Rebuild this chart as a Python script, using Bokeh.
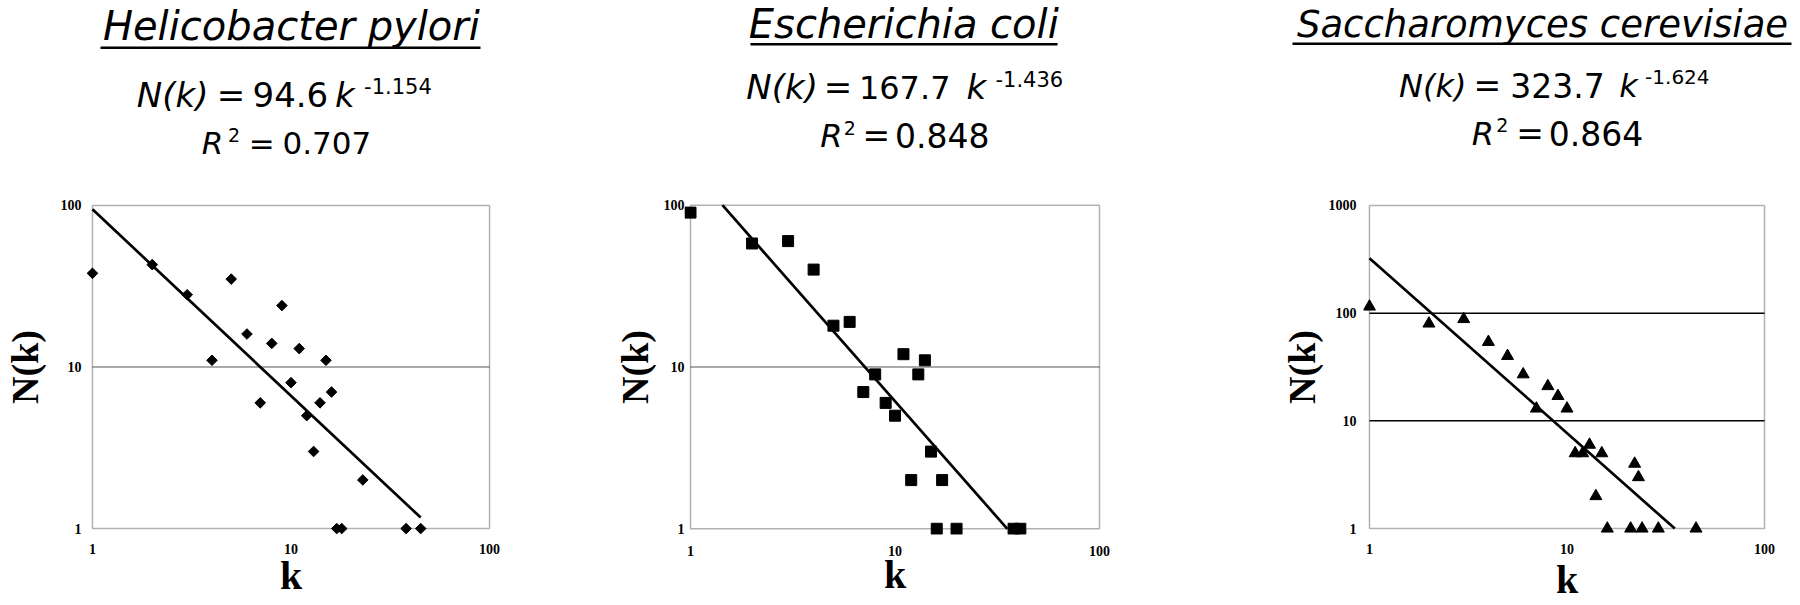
import numpy as np
from bokeh.plotting import figure
from bokeh.layouts import row, column
from bokeh.models import Label, BoxAnnotation, FixedTicker, BasicTickFormatter, Range1d
from bokeh.embed import file_html
from bokeh.resources import INLINE

# ---------------- data ----------------
species = ["Helicobacter pylori", "Escherichia coli", "Saccharomyces cerevisiae"]

hp_k = [1, 2, 3, 4, 5, 6, 7, 8, 9, 10, 11, 12, 13, 14, 15, 16, 17, 18, 23, 38, 45]
hp_n = [38, 43, 28, 11, 35, 16, 6, 14, 24, 8, 13, 5, 3, 6, 11, 7, 1, 1, 2, 1, 1]

ec_k = [1, 2, 3, 4, 5, 6, 7, 8, 9, 10, 11, 12, 13, 14, 15, 16, 17, 20, 38, 41]
ec_n = [90, 58, 60, 40, 18, 19, 7, 9, 6, 5, 12, 2, 9, 11, 3, 1, 2, 1, 1, 1]

sc_k = [1, 2, 3, 4, 5, 6, 7, 8, 9, 10, 11, 12, 13, 14, 15, 16, 21, 22, 23, 24, 29, 45]
sc_n = [115, 80, 88, 54, 40, 27, 13, 21, 17, 13, 5, 5, 6, 2, 5, 1, 1, 4, 3, 1, 1, 1]

fit_coef = [94.6, 167.7, 323.7]
fit_exp = [-1.154, -1.436, -1.624]
r_squared = [0.707, 0.848, 0.864]

x_ticks = [1, 10, 100]
x_tick_labels = ["1", "10", "100"]
y_ticks_list = [[1, 10, 100], [1, 10, 100], [1, 10, 100, 1000]]
y_tick_labels_list = [["1", "10", "100"], ["1", "10", "100"], ["1", "10", "100", "1000"]]
x_axis_label = "k"
y_axis_label = "N(k)"

series_k = [hp_k, ec_k, sc_k]
series_n = [hp_n, ec_n, sc_n]

# ---------------- layout (page pixels; the page template has no body margin) ----------------
PAGE_L, PAGE_T = 0, 0
TOTAL_W = 1800
HEAD_BOTTOM = 180      # header strip: page y 0 .. 180
PLOT_BOTTOM = 604      # plot strip:   page y 180 .. 604
PAD = 6
HEAD_FONT = "DejaVu Sans"
BASELINE_SHIFT = 0.36  # em: Label places the middle of the font box at y
AXIS_FONT = "Liberation Serif"

# header pieces: (page x, page baseline y, font px)
LAYOUT = [
    dict(fig_x=0, fig_w=600, box=(89, 205, 400, 327),
         marker="square", msize=7.5, mangle=np.pi / 4,
         grid_color="#555555", grid_width=1,
         title=(290.9, 39.5, 40), uline=(100, 480, 46, 48.5),
         nk=(172.2, 106.5, 34), eq1=(230.6, 106.5, 34), coef=(289.9, 106.5, 34),
         kk=(344.4, 106.5, 34), ex=(363.6, 93.5, 21),
         rr=(212, 153.3, 31), two=(233.5, 141.5, 19), eq2=(261.2, 153.3, 31), r2=(326.3, 153.3, 31),
         ylab_stand=12, ystand=5, xstand=9, xlab_stand=-4),
    dict(fig_x=600, fig_w=677, box=(690, 193, 409, 340),
         marker="square", msize=11, mangle=0,
         grid_color="#555555", grid_width=1,
         title=(903.3, 37.5, 40), uline=(750, 1057, 42.5, 45),
         nk=(781.7, 98.3, 34), eq1=(837.5, 98.3, 34), coef=(904.2, 98.3, 32),
         kk=(975.8, 98.3, 34), ex=(995, 86, 21),
         rr=(830.8, 146.7, 32), two=(849.3, 134, 19), eq2=(875.8, 146.7, 33), r2=(941.7, 146.7, 33),
         ylab_stand=5, ystand=0, xstand=11, xlab_stand=-7),
    dict(fig_x=1277, fig_w=523, box=(1367, 199, 397, 329),
         marker="triangle", msize=12, mangle=0,
         grid_color="black", grid_width=1.5,
         title=(1542, 37.3, 37), uline=(1292, 1791, 42, 44.5),
         nk=(1432.3, 96.7, 32), eq1=(1486.8, 96.7, 33), coef=(1557, 96.7, 33),
         kk=(1628, 96.7, 32), ex=(1644.6, 83.3, 20),
         rr=(1482.4, 145, 32), two=(1501.8, 131.7, 19), eq2=(1529.7, 145, 33), r2=(1595.5, 145, 33),
         ylab_stand=3, ystand=7, xstand=9, xlab_stand=0),
]

# ---------------- header strip ----------------
HEAD_H = HEAD_BOTTOM - PAGE_T
header = figure(width=TOTAL_W, height=HEAD_H, x_range=Range1d(0, TOTAL_W), y_range=Range1d(0, HEAD_H),
                x_axis_location=None, y_axis_location=None, output_backend="svg",
                toolbar_location=None, title=None, min_border=0)
header.outline_line_color = None
header.grid.visible = False
header.border_fill_color = "white"


def head_text(text, px, py, size, style="normal", align="center"):
    header.add_layout(Label(x=px - PAGE_L, y=HEAD_BOTTOM - (py - BASELINE_SHIFT * size), text=text,
                            text_font=HEAD_FONT, text_font_size=f"{size}px",
                            text_font_style=style, text_align=align, text_baseline="alphabetic",
                            text_color="black"))


def make_panel(i):
    L = LAYOUT[i]
    bl, bt, bw, bh = L["box"]
    yt = y_ticks_list[i]
    xdec = np.log10(x_ticks[-1]) - np.log10(x_ticks[0])
    ydec = np.log10(yt[-1]) - np.log10(yt[0])
    padx = PAD / (bw / xdec)
    pady = PAD / (bh / ydec)

    fl, ft = bl - PAD, bt - PAD
    fw, fh = bw + 2 * PAD, bh + 2 * PAD
    strip_h = PLOT_BOTTOM - HEAD_BOTTOM
    mb_left = fl - L["fig_x"]
    mb_top = ft - HEAD_BOTTOM
    mb_right = L["fig_w"] - mb_left - fw
    mb_bottom = strip_h - mb_top - fh

    p = figure(width=L["fig_w"], height=strip_h,
               x_axis_type="log", y_axis_type="log",
               x_range=Range1d(10 ** (np.log10(x_ticks[0]) - padx), 10 ** (np.log10(x_ticks[-1]) + padx)),
               y_range=Range1d(10 ** (np.log10(yt[0]) - pady), 10 ** (np.log10(yt[-1]) + pady)),
               output_backend="svg", toolbar_location=None, title=None,
               min_border_left=mb_left, min_border_right=mb_right,
               min_border_top=mb_top, min_border_bottom=mb_bottom)
    p.outline_line_color = None
    p.grid.visible = False
    p.background_fill_color = "white"
    p.border_fill_color = "white"

    for ax, ticks, labels, stand in ((p.xaxis[0], x_ticks, x_tick_labels, L["xstand"]),
                                    (p.yaxis[0], yt, y_tick_labels_list[i], L["ystand"])):
        ax.ticker = FixedTicker(ticks=ticks, minor_ticks=[])
        ax.formatter = BasicTickFormatter()
        ax.major_label_overrides = {t: s for t, s in zip(ticks, labels)}
        ax.axis_line_color = None
        ax.major_tick_line_color = None
        ax.minor_tick_line_color = None
        ax.major_tick_out = 0
        ax.major_tick_in = 0
        ax.minor_tick_out = 0
        ax.minor_tick_in = 0
        ax.major_label_text_font = AXIS_FONT
        ax.major_label_text_font_style = "bold"
        ax.major_label_text_font_size = "14px"
        ax.major_label_text_color = "black"
        ax.major_label_standoff = stand
        ax.axis_label_text_font = AXIS_FONT
        ax.axis_label_text_font_style = "bold"
        ax.axis_label_text_color = "black"

    yax, xax = p.yaxis[0], p.xaxis[0]
    yax.axis_label = y_axis_label
    yax.axis_label_text_font_size = "38px"
    yax.axis_label_standoff = L["ylab_stand"]
    xax.axis_label = x_axis_label
    xax.axis_label_text_font_size = "40px"
    xax.axis_label_standoff = L["xlab_stand"]

    # horizontal gridlines at the inner decades
    inner = yt[1:-1]
    p.segment(x0=[x_ticks[0]] * len(inner), x1=[x_ticks[-1]] * len(inner), y0=inner, y1=inner,
              line_color=L["grid_color"], line_width=L["grid_width"])

    # plot box
    p.add_layout(BoxAnnotation(left=x_ticks[0], right=x_ticks[-1], bottom=yt[0], top=yt[-1],
                               fill_color=None, line_color="black", line_width=1.5))

    # power-law fit, restricted to the data span and the axis box
    a, b = fit_coef[i], fit_exp[i]
    k = np.array(series_k[i], dtype=float)
    la = np.log10(a)
    lo = max(np.log10(k.min()), (np.log10(yt[-1]) - la) / b)
    hi = min(np.log10(k.max()), (np.log10(yt[0]) - la) / b)
    line_k = 10 ** np.array([lo, hi])
    p.line(line_k, a * line_k ** b, line_color="black", line_width=2.7)

    p.scatter(series_k[i], series_n[i], marker=L["marker"], size=L["msize"], angle=L["mangle"],
              fill_color="black", line_color="black")

    # header texts for this panel
    head_text(species[i], *L["title"], "italic")
    u0, u1, uy0, uy1 = L["uline"]
    header.quad(left=[u0 - PAGE_L], right=[u1 - PAGE_L], top=[HEAD_BOTTOM - uy0],
                bottom=[HEAD_BOTTOM - uy1], fill_color="black", line_color=None)
    head_text("N(k)", *L["nk"], "italic")
    head_text("=", *L["eq1"], "normal")
    head_text(f"{fit_coef[i]}", *L["coef"], "normal")
    head_text("k", *L["kk"], "italic")
    head_text(f"{fit_exp[i]}", *L["ex"], "normal", "left")
    head_text("R", *L["rr"], "italic")
    head_text("2", *L["two"], "normal")
    head_text("=", *L["eq2"], "normal")
    head_text(f"{r_squared[i]:.3f}", *L["r2"], "normal")
    return p


panels = [make_panel(i) for i in range(3)]
layout = column(header, row(*panels))
open("out.html", "w").write(file_html(layout, INLINE))
